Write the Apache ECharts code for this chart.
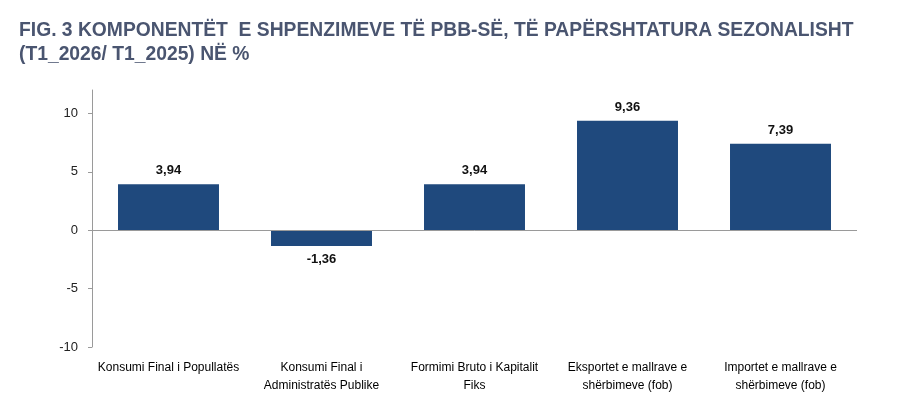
<!DOCTYPE html>
<html>
<head>
<meta charset="utf-8">
<script src="https://cdn.jsdelivr.net/npm/echarts@6/dist/echarts.min.js"></script>
<style>
  html, body { margin: 0; padding: 0; background: #fff; }
  #chart { width: 900px; height: 410px; }
</style>
</head>
<body>
<div id="chart"></div>
<script>
const categories = [
    'Konsumi Final i Popullatës',
    'Konsumi Final i\nAdministratës Publike',
    'Formimi Bruto i Kapitalit\nFiks',
    'Eksportet e mallrave e\nshërbimeve (fob)',
    'Importet e mallrave e\nshërbimeve (fob)'
];
const values = [3.94, -1.36, 3.94, 9.36, 7.39];
const yTicks = [-10, -5, 0, 5, 10];

const font = '"Liberation Sans", sans-serif';

const chart = echarts.init(document.getElementById('chart'));
chart.setOption({
    animation: false,
    title: {
        text: 'FIG. 3 KOMPONENTËT  E SHPENZIMEVE TË PBB-SË, TË PAPËRSHTATURA SEZONALISHT\n(T1_2026/ T1_2025) NË %',
        left: 14,
        top: 14,
        textStyle: {
            fontFamily: font,
            fontWeight: 'bold',
            fontSize: 19.3,
            lineHeight: 24,
            color: '#4a5570'
        }
    },
    grid: {
        left: 92,
        right: 43,
        top: 90,
        bottom: 63
    },
    xAxis: {
        type: 'category',
        data: categories,
        axisLine: { show: false },
        axisTick: { show: false },
        axisLabel: {
            interval: 0,
            margin: 12,
            fontFamily: font,
            fontSize: 12,
            lineHeight: 18,
            color: '#000'
        }
    },
    yAxis: {
        type: 'value',
        min: -10,
        max: 12,
        interval: 5,
        axisLine: { show: true, lineStyle: { color: '#9a9a9a' } },
        axisTick: { show: true, length: 4, customValues: yTicks, lineStyle: { color: '#9a9a9a' } },
        splitLine: { show: false },
        axisLabel: {
            customValues: yTicks,
            margin: 14,
            fontFamily: font,
            fontSize: 13,
            color: '#222'
        }
    },
    series: [{
        type: 'bar',
        data: values.map(v => ({
            value: v,
            label: { position: v < 0 ? 'bottom' : 'top' }
        })),
        barCategoryGap: '34%',
        itemStyle: { color: '#1f497d' },
        label: {
            show: true,
            distance: 7,
            fontFamily: font,
            fontWeight: 'bold',
            fontSize: 13,
            color: '#111',
            formatter: p => String(p.value).replace('.', ',')
        },
        markLine: {
            silent: true,
            symbol: 'none',
            label: { show: false },
            lineStyle: { color: '#9a9a9a', type: 'solid', width: 1 },
            data: [{ yAxis: 0 }]
        }
    }]
});
</script>
</body>
</html>
